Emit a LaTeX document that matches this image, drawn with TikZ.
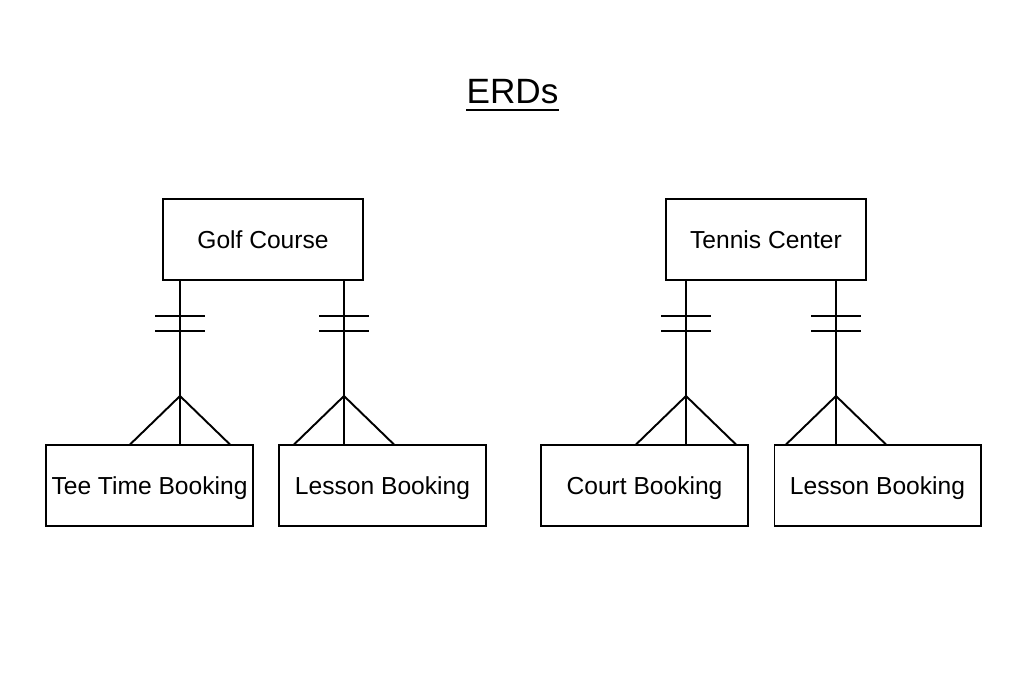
\documentclass[tikz,border=0pt]{standalone}
\usepackage{fontspec}
\setmainfont{Liberation Sans}
\usetikzlibrary{positioning}

\begin{document}
\begin{tikzpicture}[x=0.02cm, y=-0.02cm]
			\tikzstyle{parent} = [draw, line width=0.6pt, minimum width=4cm, minimum height=1.62cm, inner sep=0pt, text height=1.9ex, text depth=0pt, font=\fontsize{14}{16}\selectfont]
			\tikzstyle{child} = [draw, line width=0.6pt, minimum width=4.14cm, minimum height=1.62cm, inner sep=0pt, text height=1.9ex, text depth=0pt, font=\fontsize{14}{16}\selectfont]
			\tikzstyle{link} = [line width=1.1pt]
			\useasboundingbox (0,0) rectangle (1025,681);

			\node[font=\fontsize{20}{24}\selectfont, inner sep=0pt] (title) at (512.5,92) {ERDs};
			\draw[line width=1.1pt] (title.base west) ++(0,-3.5pt) coordinate (ul) -- (ul -| title.base east);

			% entities
			\node[parent] (golf) at (263,239.5) {Golf Course};
			\node[parent] (tennis) at (766,239.5) {Tennis Center};
			\node[child] (tee) at (149.5,485.5) {Tee Time Booking};
			\node[child] (glesson) at (382.5,485.5) {Lesson Booking};
			\node[child] (court) at (644.5,485.5) {Court Booking};
			\node[child] (tlesson) at (877.5,485.5) {Lesson Booking};

			% one-to-many links
			\foreach \p/\c/\x in {golf/tee/180, golf/glesson/344, tennis/court/686, tennis/tlesson/836} {
				\draw[link] (\p.south -| \x,0) -- (\c.north -| \x,0);
				\draw[link] (\x-25,316) -- (\x+25,316);
				\draw[link] (\x-25,331) -- (\x+25,331);
				\draw[link] (\c.north -| \x-50,0) -- (\x,396) -- (\c.north -| \x+50,0);
			}
\end{tikzpicture}
\end{document}
